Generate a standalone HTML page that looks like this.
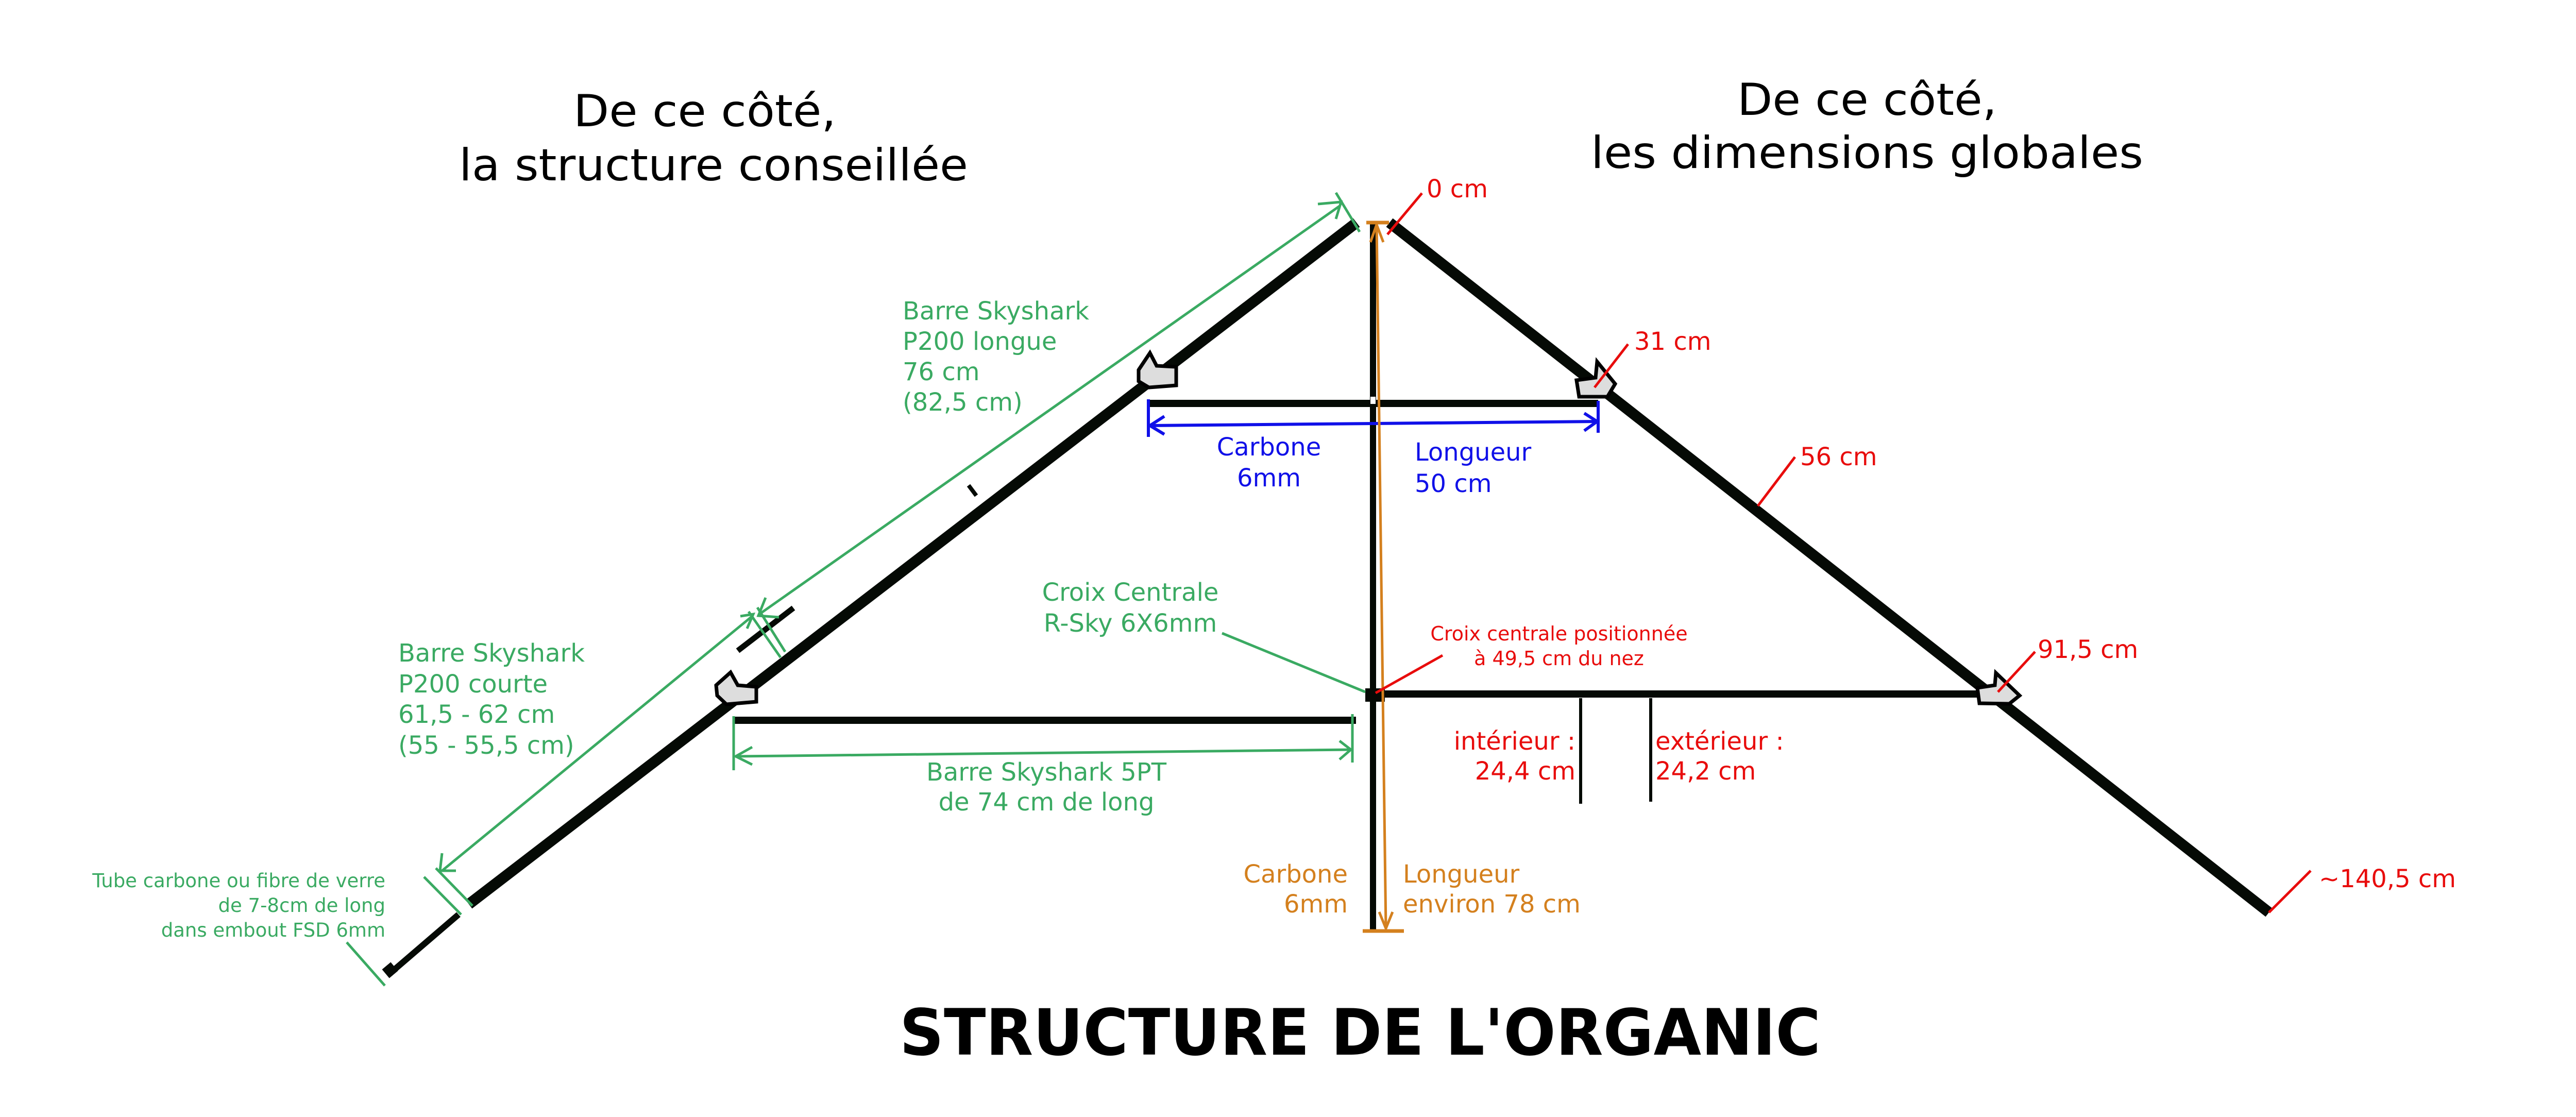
<!DOCTYPE html>
<html><head><meta charset="utf-8"><style>
html,body{margin:0;padding:0;background:#fff;}
svg{display:block;}
text{font-family:"DejaVu Sans","Liberation Sans",sans-serif;}
</style></head><body>
<svg width="5096" height="2168" viewBox="0 0 5096 2168" xmlns="http://www.w3.org/2000/svg">
<rect width="5096" height="2168" fill="#fff"/>
<!-- headers -->
<g font-size="86" fill="#000" text-anchor="middle">
<text x="1368" y="245" textLength="510" lengthAdjust="spacingAndGlyphs">De ce côté,</text>
<text x="1385" y="350" textLength="988" lengthAdjust="spacingAndGlyphs">la structure conseillée</text>
<text x="3624" y="223" textLength="504" lengthAdjust="spacingAndGlyphs">De ce côté,</text>
<text x="3624" y="326" textLength="1072" lengthAdjust="spacingAndGlyphs">les dimensions globales</text>
</g>
<text x="2640" y="2047" font-size="124" font-weight="bold" text-anchor="middle" textLength="1788" lengthAdjust="spacingAndGlyphs">STRUCTURE DE L'ORGANIC</text>

<!-- spars -->
<g stroke="#050a05" stroke-linecap="butt" fill="none">
<line x1="2633" y1="432" x2="910" y2="1755" stroke-width="21"/>
<line x1="890" y1="1775" x2="756" y2="1890" stroke-width="12"/>
<line x1="2697" y1="432" x2="4404" y2="1771" stroke-width="21"/>
<line x1="2665" y1="432" x2="2665" y2="1804" stroke-width="12"/>
<line x1="2229" y1="783" x2="3102" y2="783" stroke-width="14"/>
<line x1="1426" y1="1398" x2="2632" y2="1398" stroke-width="14"/>
<line x1="2665" y1="1347" x2="3884" y2="1347" stroke-width="14"/>
<line x1="1432" y1="1263" x2="1540" y2="1180" stroke-width="11"/>
<line x1="1880" y1="942" x2="1895" y2="962" stroke-width="8"/>
<line x1="3068" y1="1355" x2="3068" y2="1560" stroke-width="6"/>
<line x1="3204" y1="1355" x2="3204" y2="1556" stroke-width="6"/>
</g>
<rect x="2650" y="1336" width="38" height="26" fill="#050a05"/>
<rect x="2660" y="770" width="10" height="14" fill="#fff"/>
<rect x="746" y="1872" width="22" height="22" fill="#050a05" transform="rotate(-40 757 1883)"/>

<!-- connectors -->
<g fill="#ddd" stroke="#000" stroke-width="7">
<polygon points="2210,718 2232,685 2245,710 2283,712 2283,748 2230,752 2210,740"/>
<polygon points="1390,1330 1418,1305 1432,1330 1468,1333 1468,1362 1410,1367 1392,1350"/>
<polygon points="3060,738 3097,733 3100,702 3135,745 3120,770 3065,770"/>
<polygon points="3838,1335 3872,1330 3874,1306 3920,1350 3900,1366 3842,1365"/>
</g>

<!-- green dimension lines -->
<g stroke="#3aaa62" stroke-width="5" fill="none">
<line x1="2600" y1="400" x2="1474" y2="1192"/>
<line x1="2593" y1="374" x2="2639" y2="450"/>
<polyline points="2558,396 2603,392 2593,425"/>
<polyline points="1512,1198 1472,1195 1486,1160"/>
<line x1="1453" y1="1187" x2="1515" y2="1276"/>
<line x1="1470" y1="1179" x2="1524" y2="1265"/>
<line x1="1460" y1="1196" x2="858" y2="1690"/>
<polyline points="1437,1196 1462,1192 1450,1220"/>
<polyline points="858,1656 854,1690 885,1690"/>
<line x1="823" y1="1702" x2="895" y2="1775"/>
<line x1="846" y1="1685" x2="917" y2="1758"/>
<line x1="673" y1="1829" x2="747" y2="1913"/>
<line x1="1424" y1="1390" x2="1424" y2="1495"/>
<line x1="2625" y1="1386" x2="2625" y2="1480"/>
<line x1="1428" y1="1468" x2="2622" y2="1455"/>
<polyline points="1460,1450 1428,1468 1460,1484"/>
<polyline points="2600,1438 2622,1455 2600,1474"/>
<line x1="2372" y1="1229" x2="2650" y2="1343"/>
</g>

<!-- blue dimension -->
<g stroke="#1010e8" stroke-width="6" fill="none">
<line x1="2229" y1="775" x2="2229" y2="848"/>
<line x1="3102" y1="778" x2="3102" y2="840"/>
<line x1="2232" y1="826" x2="3100" y2="818"/>
<polyline points="2260,808 2232,826 2260,843"/>
<polyline points="3075,802 3100,818 3075,836"/>
</g>

<!-- orange -->
<g stroke="#d4801e" stroke-width="5" fill="none">
<line x1="2672" y1="436" x2="2690" y2="1802"/>
<line x1="2652" y1="432" x2="2696" y2="432" stroke-width="7"/>
<line x1="2645" y1="1807" x2="2725" y2="1807" stroke-width="7"/>
<polyline points="2660,470 2672,436 2685,470"/>
<polyline points="2677,1770 2690,1802 2703,1770"/>
</g>

<!-- red pointer lines -->
<g stroke="#e80c0c" stroke-width="5">
<line x1="2760" y1="375" x2="2693" y2="455"/>
<line x1="3160" y1="668" x2="3095" y2="752"/>
<line x1="3484" y1="887" x2="3412" y2="982"/>
<line x1="3950" y1="1265" x2="3878" y2="1343"/>
<line x1="4485" y1="1690" x2="4404" y2="1771"/>
<line x1="2800" y1="1272" x2="2670" y2="1345"/>
</g>

<!-- red labels -->
<g fill="#e80c0c" font-size="48">
<text x="2769" y="383">0 cm</text>
<text x="3172" y="679">31 cm</text>
<text x="3494" y="903">56 cm</text>
<text x="3955" y="1277">91,5 cm</text>
<text x="4501" y="1722">~140,5 cm</text>
<text x="3058" y="1455" text-anchor="end">intérieur :</text>
<text x="3058" y="1513" text-anchor="end">24,4 cm</text>
<text x="3213" y="1455">extérieur :</text>
<text x="3213" y="1513">24,2 cm</text>
<g font-size="38" text-anchor="middle">
<text x="3026" y="1243">Croix centrale positionnée</text>
<text x="3026" y="1291">à 49,5 cm du nez</text>
</g>
</g>

<!-- blue labels -->
<g fill="#1010e8" font-size="48">
<text x="2463" y="884" text-anchor="middle">Carbone</text>
<text x="2463" y="944" text-anchor="middle">6mm</text>
<text x="2746" y="894">Longueur</text>
<text x="2746" y="955">50 cm</text>
</g>

<!-- orange labels -->
<g fill="#d4801e" font-size="48">
<text x="2616" y="1713" text-anchor="end">Carbone</text>
<text x="2616" y="1771" text-anchor="end">6mm</text>
<text x="2723" y="1713">Longueur</text>
<text x="2723" y="1771">environ 78 cm</text>
</g>

<!-- green labels -->
<g fill="#3aaa62" font-size="48">
<text x="1752" y="620">Barre Skyshark</text>
<text x="1752" y="679">P200 longue</text>
<text x="1752" y="738">76 cm</text>
<text x="1752" y="797">(82,5 cm)</text>
<text x="773" y="1284">Barre Skyshark</text>
<text x="773" y="1344">P200 courte</text>
<text x="773" y="1403">61,5 - 62 cm</text>
<text x="773" y="1463">(55 - 55,5 cm)</text>
<text x="2031" y="1515" text-anchor="middle">Barre Skyshark 5PT</text>
<text x="2031" y="1573" text-anchor="middle">de 74 cm de long</text>
<text x="2194" y="1166" text-anchor="middle">Croix Centrale</text>
<text x="2194" y="1226" text-anchor="middle">R-Sky 6X6mm</text>
<g font-size="37" text-anchor="end">
<text x="748" y="1722">Tube carbone ou fibre de verre</text>
<text x="748" y="1770">de 7-8cm de long</text>
<text x="748" y="1818">dans embout FSD 6mm</text>
</g>
</g>
</svg>
</body></html>
